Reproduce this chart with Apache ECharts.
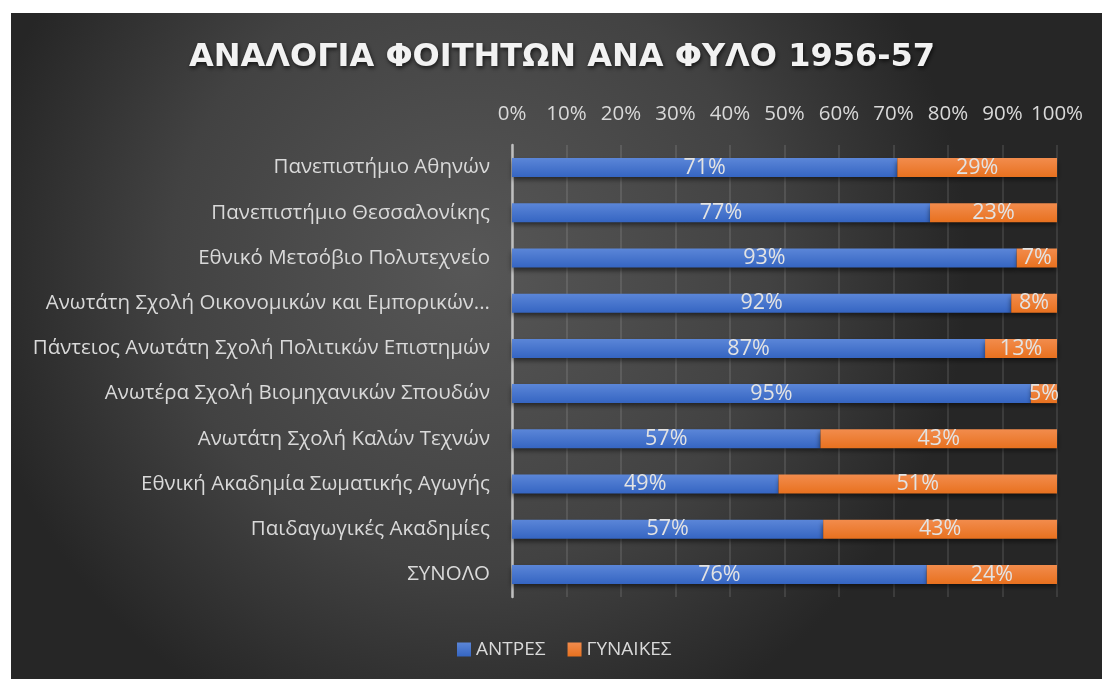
<!DOCTYPE html>
<html>
<head>
<meta charset="utf-8">
<script src="https://cdn.jsdelivr.net/npm/echarts@6/dist/echarts.min.js"></script>
<style>
  html, body { margin: 0; padding: 0; background: #ffffff; }
  #chart { position: absolute; left: 11px; top: 13px; width: 1091px; height: 666px; }
</style>
</head>
<body>
<div id="chart"></div>
<script>
// categories, top to bottom
const categories = [
  'Πανεπιστήμιο Αθηνών',
  'Πανεπιστήμιο Θεσσαλονίκης',
  'Εθνικό Μετσόβιο Πολυτεχνείο',
  'Ανωτάτη Σχολή Οικονομικών και Εμπορικών Επιστημών',
  'Πάντειος Ανωτάτη Σχολή Πολιτικών Επιστημών',
  'Ανωτέρα Σχολή Βιομηχανικών Σπουδών',
  'Ανωτάτη Σχολή Καλών Τεχνών',
  'Εθνική Ακαδημία Σωματικής Αγωγής',
  'Παιδαγωγικές Ακαδημίες',
  'ΣΥΝΟΛΟ'
];
// share of students (%)
const men = [70.7, 76.7, 92.6, 91.6, 86.8, 95.2, 56.6, 48.9, 57.1, 76.1];
const women = [29.3, 23.3, 7.4, 8.4, 13.2, 4.8, 43.4, 51.1, 42.9, 23.9];
const seriesNames = ['ΑΝΤΡΕΣ', 'ΓΥΝΑΙΚΕΣ'];

const textColor = '#d9d9d9';
const font = "'Open Sans', 'Noto Sans', sans-serif";

const chart = echarts.init(document.getElementById('chart'));

function grad(top, bottom) {
  return new echarts.graphic.LinearGradient(0, 0, 0, 1, [
    { offset: 0, color: top },
    { offset: 1, color: bottom },
  ]);
}

const barStyle = (c1, c2) => ({
  color: grad(c1, c2),
  shadowColor: 'rgba(0,0,0,0.55)',
  shadowBlur: 5,
  shadowOffsetY: 3,
});

const labelStyle = {
  show: true,
  position: 'inside',
  color: '#e3e3e3',
  fontSize: 21.5,
  fontFamily: font,
  formatter: (p) => Math.round(p.value) + '%',
};

// long names get cut like the spreadsheet does
const cutLabel = (v) => (v.length > 42 ? v.slice(0, 39) + '...' : v);

chart.setOption({
  backgroundColor: {
    type: 'radial',
    x: 0.42,
    y: 0.38,
    r: 0.75,
    colorStops: [
      { offset: 0, color: '#575757' },
      { offset: 0.6, color: '#424242' },
      { offset: 1, color: '#262626' },
    ],
  },
  textStyle: { fontFamily: font },
  title: {
    text: 'ΑΝΑΛΟΓΙΑ ΦΟΙΤΗΤΩΝ ΑΝΑ ΦΥΛΟ 1956-57',
    left: 546,
    textAlign: 'center',
    top: 24,
    textStyle: {
      color: '#f2f2f2',
      fontSize: 32,
      fontWeight: 'bold',
      fontFamily: "'DejaVu Sans', 'Open Sans', sans-serif",
      textShadowColor: 'rgba(0,0,0,0.7)',
      textShadowBlur: 4,
      textShadowOffsetX: 1,
      textShadowOffsetY: 2,
    },
  },
  legend: {
    data: seriesNames,
    left: 441,
    top: 622,
    icon: 'rect',
    itemWidth: 14,
    itemHeight: 14,
    itemGap: 22,
    textStyle: { color: textColor, fontSize: 19, fontFamily: font },
  },
  grid: { left: 501, right: 45, top: 132, bottom: 82 },
  xAxis: {
    type: 'value',
    position: 'top',
    min: 0,
    max: 100,
    interval: 10,
    axisLine: { show: false },
    axisTick: { show: false },
    axisLabel: {
      color: textColor,
      fontSize: 20.5,
      margin: 20,
      formatter: '{value}%',
    },
    splitLine: { lineStyle: { color: 'rgba(255,255,255,0.14)', width: 1.5 } },
  },
  yAxis: {
    type: 'category',
    inverse: true,
    data: categories,
    axisLine: { lineStyle: { color: '#bfbfbf', width: 2.5 } },
    axisTick: { show: false },
    axisLabel: {
      color: textColor,
      fontSize: 20.5,
      margin: 22,
      formatter: cutLabel,
    },
  },
  series: [
    {
      name: seriesNames[0],
      type: 'bar',
      stack: 'total',
      barWidth: 19,
      itemStyle: barStyle('#5b86d8', '#3565c2'),
      label: labelStyle,
      data: men,
    },
    {
      name: seriesNames[1],
      type: 'bar',
      stack: 'total',
      barWidth: 19,
      itemStyle: barStyle('#f28c4d', '#e8711f'),
      label: labelStyle,
      data: women,
    },
  ],
});

window.addEventListener('resize', () => chart.resize());
</script>
</body>
</html>
